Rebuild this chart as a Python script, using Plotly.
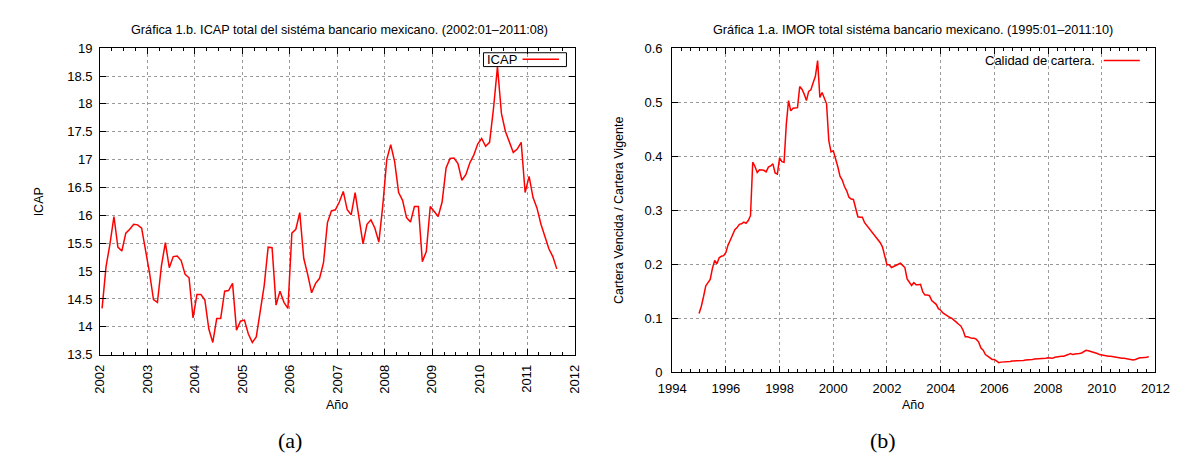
import pandas as pd
import plotly.graph_objects as go

# ---------------- data ----------------
icap_months = pd.period_range("2002-01", "2011-08", freq="M")
icap_values = [
    14.33, 15.08, 15.49, 15.98, 15.43, 15.36, 15.68, 15.75, 15.84, 15.83, 15.77, 15.37,   # 2002
    14.97, 14.49, 14.44, 15.09, 15.51, 15.06, 15.26, 15.27, 15.19, 14.94, 14.88, 14.16,   # 2003
    14.58, 14.58, 14.48, 13.96, 13.72, 14.15, 14.15, 14.64, 14.65, 14.78, 13.94, 14.10,   # 2004
    14.12, 13.87, 13.72, 13.82, 14.25, 14.74, 15.43, 15.42, 14.39, 14.64, 14.44, 14.33,   # 2005
    15.68, 15.75, 16.05, 15.23, 14.94, 14.61, 14.78, 14.87, 15.15, 15.87, 16.08, 16.10,   # 2006
    16.24, 16.43, 16.10, 16.01, 16.41, 15.92, 15.49, 15.84, 15.92, 15.77, 15.52, 16.18,   # 2007
    17.00, 17.27, 16.96, 16.41, 16.27, 15.96, 15.88, 16.16, 16.16, 15.17, 15.35, 16.16,   # 2008
    16.08, 15.98, 16.24, 16.85, 17.02, 17.03, 16.93, 16.63, 16.73, 16.94, 17.08, 17.28,   # 2009
    17.38, 17.24, 17.31, 17.92, 18.67, 17.83, 17.51, 17.33, 17.13, 17.19, 17.31, 16.41,   # 2010
    16.70, 16.32, 16.13, 15.84, 15.64, 15.40, 15.26, 15.04,                               # 2011
]

imor_months = pd.period_range("1995-01", "2011-10", freq="M")
imor_values = [
    0.109, 0.122, 0.140, 0.160, 0.166, 0.172, 0.193, 0.207, 0.201, 0.212, 0.215, 0.216,  # 1995
    0.222, 0.236, 0.245, 0.256, 0.264, 0.268, 0.274, 0.275, 0.278, 0.276, 0.281, 0.290,  # 1996
    0.389, 0.381, 0.370, 0.375, 0.375, 0.374, 0.371, 0.380, 0.382, 0.386, 0.369, 0.367,  # 1997
    0.397, 0.390, 0.389, 0.459, 0.503, 0.484, 0.489, 0.489, 0.490, 0.529, 0.524, 0.515,  # 1998
    0.503, 0.520, 0.523, 0.536, 0.548, 0.577, 0.509, 0.518, 0.508, 0.497, 0.429, 0.408,  # 1999
    0.410, 0.396, 0.381, 0.363, 0.356, 0.344, 0.336, 0.324, 0.321, 0.320, 0.306, 0.288,  # 2000
    0.287, 0.287, 0.277, 0.272, 0.267, 0.262, 0.256, 0.250, 0.245, 0.240, 0.232, 0.217,  # 2001
    0.199, 0.199, 0.194, 0.196, 0.198, 0.201, 0.202, 0.198, 0.194, 0.173, 0.166, 0.161,  # 2002
    0.166, 0.162, 0.162, 0.163, 0.149, 0.143, 0.143, 0.142, 0.133, 0.130, 0.126, 0.118,  # 2003
    0.115, 0.110, 0.107, 0.105, 0.102, 0.100, 0.097, 0.093, 0.089, 0.086, 0.078, 0.066,  # 2004
    0.066, 0.064, 0.063, 0.063, 0.061, 0.056, 0.045, 0.041, 0.033, 0.030, 0.027, 0.024,  # 2005
    0.024, 0.021, 0.018, 0.019, 0.019, 0.020, 0.020, 0.020, 0.021, 0.021, 0.021, 0.021,  # 2006
    0.021, 0.022, 0.023, 0.023, 0.024, 0.024, 0.025, 0.025, 0.026, 0.026, 0.026, 0.026,  # 2007
    0.027, 0.027, 0.026, 0.028, 0.029, 0.029, 0.030, 0.030, 0.031, 0.033, 0.035, 0.033,  # 2008
    0.034, 0.034, 0.035, 0.036, 0.038, 0.041, 0.040, 0.039, 0.037, 0.036, 0.035, 0.033,  # 2009
    0.032, 0.031, 0.030, 0.030, 0.030, 0.029, 0.028, 0.027, 0.027, 0.026, 0.026, 0.025,  # 2010
    0.024, 0.024, 0.023, 0.024, 0.026, 0.027, 0.027, 0.027, 0.028, 0.029,                # 2011
]

icap_ticks = list(range(2002, 2013))
imor_ticks = list(range(1994, 2013, 2))

title_a = "Gráfica 1.b. ICAP total del sistéma bancario mexicano. (2002:01\u20132011:08)"
title_b = "Gráfica 1.a. IMOR total sistéma bancario mexicano. (1995:01\u20132011:10)"

# x positions derived from the monthly periods
icap_x = [p.year + (p.month - 0.5) / 12 for p in icap_months]
imor_x = [p.year + (p.month - 1) / 12 for p in imor_months]

# ---------------- layout helpers ----------------
W, H = 1180, 465
def px(x):
    return x / W
def py(y):
    return 1 - y / H

FONT = "Liberation Sans, Arial, sans-serif"
RED = "#ff0000"
GRID = "#9a9a9a"

fig = go.Figure()
fig.add_trace(go.Scatter(x=icap_x, y=icap_values, mode="lines",
                         line=dict(color=RED, width=1.5), xaxis="x", yaxis="y",
                         showlegend=False))
fig.add_trace(go.Scatter(x=imor_x, y=imor_values, mode="lines",
                         line=dict(color=RED, width=1.5), xaxis="x2", yaxis="y2",
                         showlegend=False))

common = dict(showline=True, linecolor="black", linewidth=1, mirror="allticks",
              ticks="inside", tickcolor="black", ticklen=6, tickwidth=1,
              showgrid=True, gridcolor=GRID, griddash="dot", gridwidth=1,
              zeroline=False, tickfont=dict(family=FONT, size=13, color="black"))

fig.update_layout(
    width=W, height=H,
    margin=dict(l=0, r=0, t=0, b=0),
    paper_bgcolor="white", plot_bgcolor="white",
    showlegend=False,
    xaxis=dict(domain=[px(80), px(566)], range=[2002, 2012], anchor="y",
               tickvals=icap_ticks, tickangle=-90, ticklabelstandoff=4,
               minor=dict(dtick=0.25, tick0=2002, ticks="inside", ticklen=3,
                          tickcolor="black", showgrid=False),
               **common),
    yaxis=dict(domain=[py(351), py(34.3)], range=[13.5, 19], anchor="x",
               dtick=0.5, tick0=13.5, ticklabelstandoff=4, **common),
    xaxis2=dict(domain=[px(666), px(1161)], range=[1994, 2012], anchor="y2",
                tickvals=imor_ticks, ticklabelstandoff=4,
                minor=dict(dtick=1/3, tick0=1994, ticks="inside", ticklen=3,
                           tickcolor="black", showgrid=False),
                **common),
    yaxis2=dict(domain=[py(369.3), py(34.3)], range=[0, 0.6], anchor="x2",
                dtick=0.1, tick0=0, ticklabelstandoff=6, **common),
)

ann = []
def text(x, y, s, size=12, angle=0, xanchor="center", family=FONT):
    ann.append(dict(x=px(x), y=py(y), xref="paper", yref="paper", text=s,
                    showarrow=False, xanchor=xanchor, yanchor="middle",
                    textangle=angle, font=dict(family=family, size=size, color="black")))

# titles
text(325, 15, title_a, size=12.7)
text(913, 15, title_b, size=12.7)
# axis titles
text(17, 193, "ICAP", size=12.5, angle=-90)
text(323, 403, "Año", size=12.5)
text(612, 202, "Cartera Vencida / Cartera Vigente", size=12.5, angle=-90)
text(913, 403, "Año", size=12.5)
# captions
text(275, 440, "(a)", size=22, family="Liberation Serif, DejaVu Serif, serif")
text(882, 440, "(b)", size=22, family="Liberation Serif, DejaVu Serif, serif")
# legends (drawn manually: gnuplot style, text then sample)
text(474, 46, "ICAP", size=13, xanchor="left")
text(1101, 47, "Calidad de cartera.", size=13, xanchor="right")

shapes = [
    dict(type="rect", xref="paper", yref="paper", x0=px(472.7), x1=px(557.7),
         y0=py(53.3), y1=py(39), line=dict(color="black", width=1)),
    dict(type="line", xref="paper", yref="paper", x0=px(512.7), x1=px(550),
         y0=py(45.7), y1=py(45.7), line=dict(color=RED, width=1.5)),
    dict(type="line", xref="paper", yref="paper", x0=px(1108), x1=px(1145),
         y0=py(47), y1=py(47), line=dict(color=RED, width=1.5)),
]
fig.update_layout(annotations=ann, shapes=shapes)

fig.write_html("out.html")
